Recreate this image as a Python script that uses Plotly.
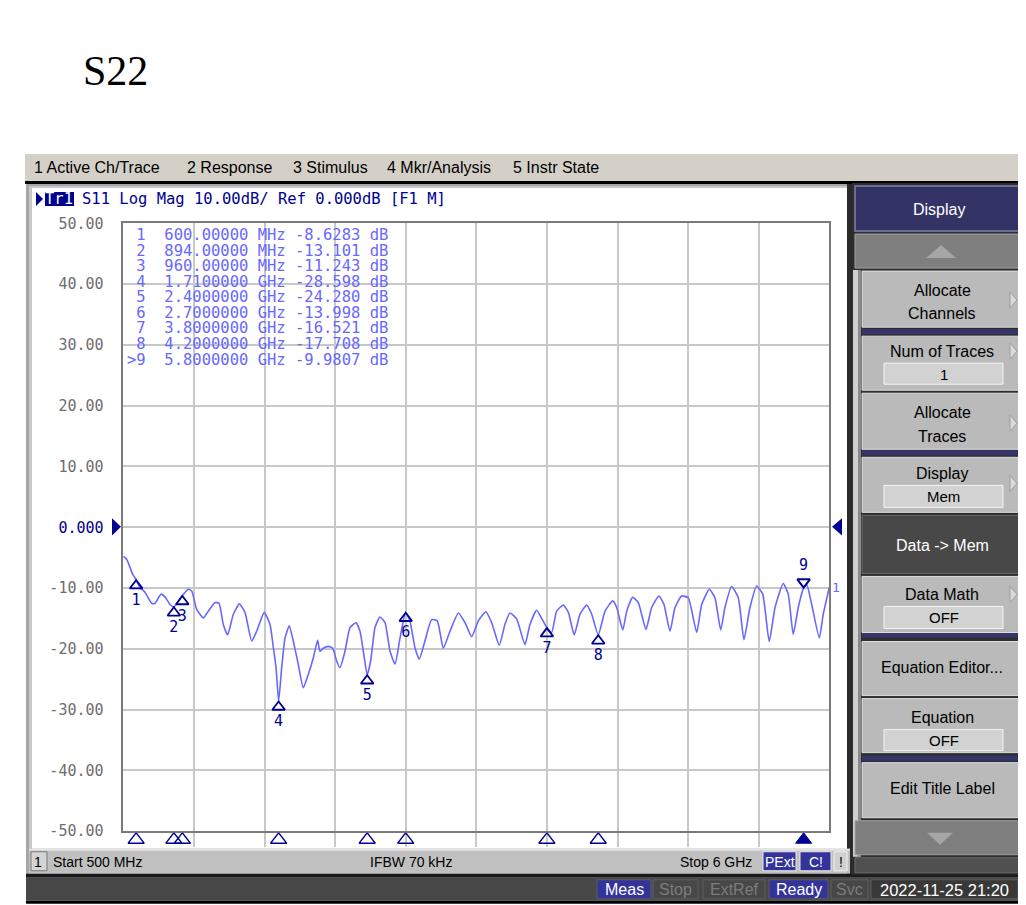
import plotly.graph_objects as go

# Figure size and the mapping from the screenshot's pixel grid to paper coordinates
FW, FH = 1018, 905
OX = 8.0          # horizontal page offset
OY, SY = 17.2, 0.979  # vertical offset / scale seen in the photographed page


def px(x):
    return (x - OX) / FW


def py(y):
    return 1 - ((y - OY) / SY) / FH


# ---------------- data ----------------
freq_ghz = [0.500, 0.526, 0.573, 0.600, 0.630, 0.669, 0.721, 0.747, 0.794, 0.825,
            0.864, 0.894, 0.960, 1.006, 1.033, 1.072, 1.123, 1.162, 1.214, 1.246,
            1.279, 1.313, 1.357, 1.404, 1.448, 1.500, 1.539, 1.598, 1.643, 1.669,
            1.690, 1.710, 1.734, 1.760, 1.793, 1.824, 1.863, 1.902, 1.941, 1.980,
            2.014, 2.032, 2.058, 2.097, 2.131, 2.162, 2.188, 2.227, 2.266, 2.313,
            2.344, 2.370, 2.400, 2.427, 2.461, 2.500, 2.539, 2.578, 2.617, 2.656,
            2.700, 2.733, 2.772, 2.806, 2.850, 2.902, 2.946, 2.993, 3.045, 3.110,
            3.162, 3.214, 3.266, 3.325, 3.370, 3.429, 3.473, 3.512, 3.565, 3.629,
            3.668, 3.720, 3.759, 3.800, 3.837, 3.876, 3.928, 3.967, 4.013, 4.058,
            4.110, 4.149, 4.200, 4.253, 4.313, 4.344, 4.391, 4.422, 4.468, 4.512,
            4.572, 4.616, 4.673, 4.712, 4.759, 4.798, 4.850, 4.901, 4.967, 5.006,
            5.065, 5.109, 5.154, 5.187, 5.239, 5.291, 5.335, 5.382, 5.434, 5.481,
            5.532, 5.577, 5.641, 5.680, 5.719, 5.758, 5.800, 5.824, 5.863, 5.922,
            5.953, 6.000]
s_db = [-4.8, -5.25, -7.7, -8.63, -9.9, -10.7, -12.5, -12.5, -11.0, -11.45,
        -12.7, -13.1, -11.24, -10.2, -10.5, -13.5, -14.9, -13.8, -12.4, -12.5,
        -16.0, -17.7, -14.3, -12.6, -14.0, -18.7, -17.1, -14.0, -16.0, -19.8,
        -23.1, -28.6, -23.1, -18.2, -16.2, -18.7, -22.5, -26.4, -24.2, -21.5,
        -18.6, -20.4, -19.9, -19.6, -19.9, -22.0, -23.1, -20.4, -16.5, -15.7,
        -17.1, -20.4, -24.28, -22.0, -16.5, -14.75, -15.7, -20.4, -22.5, -18.2,
        -14.0, -15.4, -19.8, -21.7, -18.7, -15.2, -15.4, -19.9, -17.1, -14.1,
        -15.7, -18.0, -15.4, -13.9, -15.7, -19.4, -16.0, -14.1, -15.1, -19.3,
        -16.0, -13.65, -15.0, -16.52, -17.3, -13.8, -12.8, -14.0, -17.7, -14.3,
        -12.8, -14.3, -17.7, -13.8, -12.1, -13.2, -16.9, -13.8, -11.5, -12.4,
        -16.8, -13.2, -11.3, -12.7, -17.1, -13.2, -11.3, -11.6, -17.3, -12.7,
        -10.2, -11.6, -16.9, -13.2, -9.75, -11.6, -18.5, -13.2, -9.65, -11.0,
        -18.8, -13.2, -9.25, -11.0, -17.6, -13.2, -9.98, -9.4, -12.7, -18.2,
        -14.3, -9.9]

marker_ids = ["1", "2", "3", "4", "5", "6", "7", "8", "9"]
marker_freq_ghz = [0.600, 0.894, 0.960, 1.710, 2.400, 2.700, 3.800, 4.200, 5.800]
marker_db = [-8.6283, -13.101, -11.243, -28.598, -24.280, -13.998, -16.521, -17.708, -9.9807]
marker_freq_text = ["600.00000 MHz", "894.00000 MHz", "960.00000 MHz",
                    "1.7100000 GHz", "2.4000000 GHz", "2.7000000 GHz",
                    "3.8000000 GHz", "4.2000000 GHz", "5.8000000 GHz"]
marker_db_text = ["-8.6283", "-13.101", "-11.243", "-28.598", "-24.280",
                  "-13.998", "-16.521", "-17.708", "-9.9807"]
active_marker = "9"

y_tick_vals = [-50, -40, -30, -20, -10, 0, 10, 20, 30, 40, 50]
y_tick_text = ["-50.00", "-40.00", "-30.00", "-20.00", "-10.00",
               "<span style='color:#000090'>0.000</span>",
               "10.00", "20.00", "30.00", "40.00", "50.00"]

menu_items = ["1 Active Ch/Trace", "2 Response", "3 Stimulus", "4 Mkr/Analysis", "5 Instr State"]
menu_x = [35, 188, 294, 388, 514]

# ---------------- styles ----------------
TRACE = "#6868ff"
NAVY = "#000090"
MONO = "DejaVu Sans Mono"
SANS = "Liberation Sans"

x_min, x_max = 0.5, 6.0
y_min, y_max = -50, 50
dom_x = [px(123.3), px(829.3)]
dom_y = [py(830.5), py(223.3)]
px_per_db = (830.5 - 223.3) / (y_max - y_min) / SY

fig = go.Figure()

# main trace
fig.add_trace(go.Scatter(
    x=freq_ghz, y=s_db, mode="lines",
    line=dict(color=TRACE, width=1.6, shape="spline", smoothing=0.5),
    hoverinfo="skip", showlegend=False))

# marker triangles on the trace (apex on the trace point)
tri_off = 6 / px_per_db
normal = [i for i, m in enumerate(marker_ids) if m != active_marker]
act = [i for i, m in enumerate(marker_ids) if m == active_marker]
fig.add_trace(go.Scatter(
    x=[marker_freq_ghz[i] for i in normal],
    y=[marker_db[i] - tri_off for i in normal],
    mode="markers+text",
    marker=dict(symbol="triangle-up-open", size=11, color=NAVY, line=dict(width=1.8, color=NAVY)),
    text=[marker_ids[i] for i in normal], textposition="bottom center",
    textfont=dict(family=MONO, size=15, color=NAVY),
    hoverinfo="skip", showlegend=False))
fig.add_trace(go.Scatter(
    x=[marker_freq_ghz[i] for i in act],
    y=[marker_db[i] + tri_off for i in act],
    mode="markers+text",
    marker=dict(symbol="triangle-down-open", size=11, color=NAVY, line=dict(width=2, color=NAVY)),
    text=[marker_ids[i] for i in act], textposition="top center",
    textfont=dict(family=MONO, size=15, color=NAVY),
    hoverinfo="skip", showlegend=False))

# marker position indicators in a strip below the grid
fig.add_trace(go.Scatter(
    x=[marker_freq_ghz[i] for i in normal], y=[0.5] * len(normal),
    xaxis="x", yaxis="y2", mode="markers",
    marker=dict(symbol="triangle-up-open", size=14, color=NAVY, line=dict(width=1.3, color=NAVY)),
    hoverinfo="skip", showlegend=False))
fig.add_trace(go.Scatter(
    x=[marker_freq_ghz[i] for i in act], y=[0.5] * len(act),
    xaxis="x", yaxis="y2", mode="markers",
    marker=dict(symbol="triangle-up", size=14, color=NAVY, line=dict(width=1, color=NAVY)),
    hoverinfo="skip", showlegend=False))

shapes = []
ann = []


def rect(x0, y0, x1, y1, fill, line=None, lw=0, layer="below"):
    shapes.append(dict(type="rect", xref="paper", yref="paper",
                       x0=px(x0), x1=px(x1), y0=py(y1), y1=py(y0),
                       fillcolor=fill, layer=layer,
                       line=dict(color=line or fill, width=lw)))


def poly(pts, fill, line=None, lw=0, layer="above"):
    path = "M " + " L ".join(f"{px(a):.5f},{py(b):.5f}" for a, b in pts) + " Z"
    shapes.append(dict(type="path", xref="paper", yref="paper", path=path,
                       fillcolor=fill, layer=layer,
                       line=dict(color=line or fill, width=lw)))


def txt(x, y, s, size, color, family=SANS, xanchor="left"):
    ann.append(dict(xref="paper", yref="paper", x=px(x), y=py(y), text=s,
                    showarrow=False, xanchor=xanchor, yanchor="middle",
                    borderpad=0, borderwidth=0,
                    font=dict(family=family, size=size, color=color)))


# ---- title ----
txt(83, 71, "S22", 42, "#000000", family="Liberation Serif")

# ---- menu bar ----
rect(25, 154, 1026, 181, "#d4d0c8")
rect(25, 181, 1026, 184, "#000000")
for s, x in zip(menu_items, menu_x):
    txt(x - 1, 168, s, 16, "#000000")

# ---- main window frame ----
rect(26, 184, 853, 874, "#a6a6a6")
rect(29, 186, 850, 874, "#c8c8c8")
rect(32, 188, 847, 848, "#ffffff")
rect(847, 184, 852, 874, "#2a2a2a")

# header
poly([(36, 192), (43, 199), (36, 206)], NAVY)
rect(45, 192, 74, 206, NAVY)
txt(45, 199, "Tr1", 15.5, "#ffffff", family=MONO)
txt(82, 199, "S11 Log Mag 10.00dB/ Ref 0.000dB [F1 M]".replace(" ", "\u00a0"), 15.5, NAVY, family=MONO)

# reference level arrows
poly([(112, 518), (121, 526.5), (112, 535)], NAVY)
poly([(842, 518), (832, 526.5), (842, 535)], NAVY)

# marker table
for k, (mid, ft, dt) in enumerate(zip(marker_ids, marker_freq_text, marker_db_text)):
    prefix = ">" if mid == active_marker else " "
    line = f"{prefix}{mid}  {ft} {dt} dB".replace(" ", "\u00a0")
    txt(127, 235 + k * 15.54, line, 15.5, TRACE, family=MONO)

# trace end label
ann.append(dict(xref="x", yref="y", x=x_max, y=s_db[-1], text="1", showarrow=False,
                xanchor="left", yanchor="middle", xshift=1,
                font=dict(family=MONO, size=13, color=TRACE)))

# ---- channel status bar ----
rect(29, 848, 850, 873, "#c0c0c0")
rect(29, 848, 850, 850, "#e4e4e4")
rect(31, 851, 47, 870, "#d4d4d4", "#7a7a7a", 1)
txt(34, 861, "1", 14, "#000000")
txt(53, 861, "Start 500 MHz", 14, "#000000")
txt(411, 861, "IFBW 70 kHz", 14, "#000000", xanchor="center")
txt(752, 861, "Stop 6 GHz", 14, "#000000", xanchor="right")
rect(763, 851, 796, 870, "#333399", "#e8e8e8", 1)
txt(779.5, 861, "PExt", 14, "#ffffff", xanchor="center")
rect(800, 851, 831, 870, "#333399", "#e8e8e8", 1)
txt(815.5, 861, "C!", 14, "#ffffff", xanchor="center")
rect(834, 851, 847, 870, "#d0d0d0", "#f0f0f0", 1)
txt(840.5, 861, "!", 14, "#000000", xanchor="center")

# ---- bottom instrument bar ----
rect(26, 873, 1026, 877, "#1a1a1a")
rect(26, 877, 1026, 900, "#474747")
rect(26, 900, 1026, 903, "#000000")
status = [("Meas", 597, 651, "#333399", "#ffffff"),
          ("Stop", 653, 698, "#474747", "#7c7c7c"),
          ("ExtRef", 703, 765, "#474747", "#7c7c7c"),
          ("Ready", 769, 828, "#333399", "#ffffff"),
          ("Svc", 831, 868, "#474747", "#7c7c7c"),
          ("2022-11-25 21:20", 871, 1018, "#383838", "#ffffff")]
for s, a, b, f, c in status:
    rect(a, 879, b, 898, f, "#5e5e5e", 1)
    txt((a + b) / 2, 889, s, 16.5 if len(s) > 10 else 16, c, xanchor="center")

# ---- softkey panel ----
rect(852, 183, 1026, 874, "#2e2e2e")
rect(853, 270, 861, 856, "#cfcfcf")
rect(858, 270, 861, 856, "#8a8a8a")
rect(855, 186, 1024, 231, "#333366", "#8080b0", 1.5)
txt(939, 209, "Display", 16, "#ffffff", xanchor="center")
rect(855, 234, 1024, 268, "#7f7f7f", "#a0a0a0", 1)
poly([(926, 258), (941, 245), (956, 258)], "#a6a6a6")
for a, b in [(329, 334), (450, 455), (632, 637), (755, 760)]:
    rect(862, a, 1024, b, "#35356e")

KEY = "#bababa"
keys = [(271, 327), (336, 390), (393, 449), (457, 512), (576, 632), (641, 695), (698, 752), (762, 817)]
for a, b in keys:
    rect(862, a, 1024, b, KEY, "#dedede", 1)
rect(862, 515, 1024, 573, "#484848", "#6a6a6a", 1)

txt(942, 290, "Allocate", 16, "#000000", xanchor="center")
txt(942, 313, "Channels", 16, "#000000", xanchor="center")
txt(942, 351, "Num of Traces", 16, "#000000", xanchor="center")
txt(942, 412, "Allocate", 16, "#000000", xanchor="center")
txt(942, 436, "Traces", 16, "#000000", xanchor="center")
txt(942, 473, "Display", 16, "#000000", xanchor="center")
txt(942, 545, "Data -> Mem", 16, "#ffffff", xanchor="center")
txt(942, 594, "Data Math", 16, "#000000", xanchor="center")
txt(942, 667, "Equation Editor...", 16, "#000000", xanchor="center")
txt(942, 717, "Equation", 16, "#000000", xanchor="center")
txt(942, 788, "Edit Title Label", 16, "#000000", xanchor="center")

for a, b, s in [(363, 384, "1"), (485, 507, "Mem"), (606, 628, "OFF"), (729, 750, "OFF")]:
    rect(884, a, 1003, b, "#d2d2d2", "#f4f4f4", 1)
    txt(943.5, (a + b) / 2 + 0.5, s, 15, "#000000", xanchor="center")

for yc in [300, 351, 423, 483, 594]:
    poly([(1010, yc - 8), (1017, yc), (1010, yc + 8)], "#dadada", "#9e9e9e", 1)

rect(855, 820, 1024, 854, "#7f7f7f", "#a0a0a0", 1)
poly([(927, 832), (953, 832), (940, 844)], "#a6a6a6")
rect(855, 857, 1024, 872, "#505050", "#6a6a6a", 1)

fig.update_layout(
    width=FW, height=FH, autosize=False,
    margin=dict(l=0, r=0, t=0, b=0),
    paper_bgcolor="#ffffff", plot_bgcolor="#ffffff",
    showlegend=False,
    shapes=shapes, annotations=ann,
    xaxis=dict(domain=dom_x, range=[x_min, x_max], tick0=x_min, dtick=(x_max - x_min) / 10,
               showticklabels=False, ticks="", showgrid=True, gridcolor="#c8c8c8", gridwidth=2,
               zeroline=False, showline=True, linecolor="#7a7a7a", linewidth=1.5, mirror=True,
               fixedrange=True),
    yaxis=dict(domain=dom_y, range=[y_min, y_max], tickvals=y_tick_vals, ticktext=y_tick_text,
               ticks="", ticklabelstandoff=15, showgrid=True, gridcolor="#c8c8c8", gridwidth=1.5,
               zeroline=False, showline=True, linecolor="#7a7a7a", linewidth=1.5, mirror=True,
               tickfont=dict(family=MONO, size=15, color="#6e6e6e"), fixedrange=True),
    yaxis2=dict(domain=[py(846), py(832)], range=[0, 1], anchor="x", visible=False,
                fixedrange=True),
)

fig.write_html("out.html")
